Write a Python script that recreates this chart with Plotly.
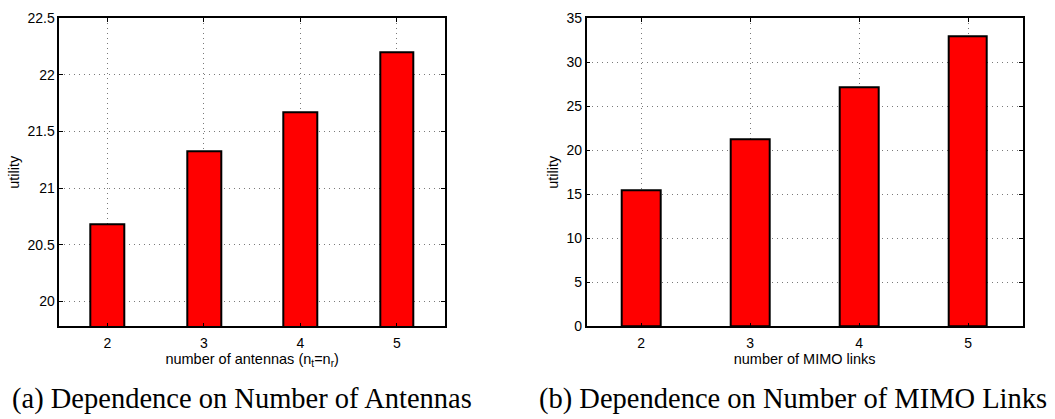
import plotly.graph_objects as go

# Data
antennas = [2, 3, 4, 5]
utility_antennas = [20.68, 21.33, 21.67, 22.20]
links = [2, 3, 4, 5]
utility_links = [15.5, 21.3, 27.2, 33.0]

left_yticks = [20, 20.5, 21, 21.5, 22, 22.5]
left_yticklabels = ["20", "20.5", "21", "21.5", "22", "22.5"]
right_yticks = [0, 5, 10, 15, 20, 25, 30, 35]
xticks = [2, 3, 4, 5]

W, H = 1055, 419

def px(x):
    return x / W

def py(y):
    return 1 - y / H

fig = go.Figure()
bar_style = dict(marker=dict(color="#ff0000", line=dict(color="black", width=2)),
                 width=0.35, showlegend=False, hoverinfo="x+y")
fig.add_trace(go.Bar(x=antennas, y=utility_antennas, xaxis="x", yaxis="y", **bar_style))
fig.add_trace(go.Bar(x=links, y=utility_links, xaxis="x2", yaxis="y2", **bar_style))

tick_font = dict(family="Liberation Sans, Arial, sans-serif", size=14, color="black")
title_font = dict(family="Liberation Sans, Arial, sans-serif", size=14.5, color="black")
common_axis = dict(showline=True, linecolor="black", linewidth=1.5, mirror="ticks",
                   ticks="inside", ticklen=4, tickcolor="black", tickwidth=1,
                   showgrid=True, gridcolor="#7a7a7a", griddash="1px,4px", gridwidth=1,
                   zeroline=False, tickfont=tick_font)

fig.update_layout(
    width=W, height=H,
    margin=dict(l=0, r=0, t=0, b=0),
    paper_bgcolor="white", plot_bgcolor="white",
    bargap=0,
    xaxis=dict(domain=[px(59.3), px(445)], anchor="y", range=[1.5, 5.5],
               tickvals=xticks, ticktext=[str(v) for v in xticks], ticklabelstandoff=3,
               title=dict(text="number of antennas (n<sub>t</sub>=n<sub>r</sub>)",
                          font=title_font, standoff=2), **common_axis),
    yaxis=dict(domain=[py(331), py(10.7)], anchor="x", range=[19.78, 22.5],
               tickvals=left_yticks, ticktext=left_yticklabels,
               title=dict(text="utility", font=title_font, standoff=4), **common_axis),
    xaxis2=dict(domain=[px(586.7), px(1022.6)], anchor="y2", range=[1.5, 5.5],
                tickvals=xticks, ticktext=[str(v) for v in xticks], ticklabelstandoff=3,
                title=dict(text="number of MIMO links", font=title_font, standoff=2),
                **common_axis),
    yaxis2=dict(domain=[py(331), py(10.7)], anchor="x2", range=[0, 35],
                tickvals=right_yticks, ticktext=[str(v) for v in right_yticks],
                title=dict(text="utility", font=title_font, standoff=4), **common_axis),
    annotations=[
        dict(text="(a) Dependence on Number of Antennas", x=px(242.5), y=py(407),
             xref="paper", yref="paper", xanchor="center", yanchor="middle",
             showarrow=False, font=dict(family="Liberation Serif, serif", size=28.5, color="black")),
        dict(text="(b) Dependence on Number of MIMO Links", x=px(792.5), y=py(407),
             xref="paper", yref="paper", xanchor="center", yanchor="middle",
             showarrow=False, font=dict(family="Liberation Serif, serif", size=28.5, color="black")),
    ],
)

fig.write_html("out.html")
